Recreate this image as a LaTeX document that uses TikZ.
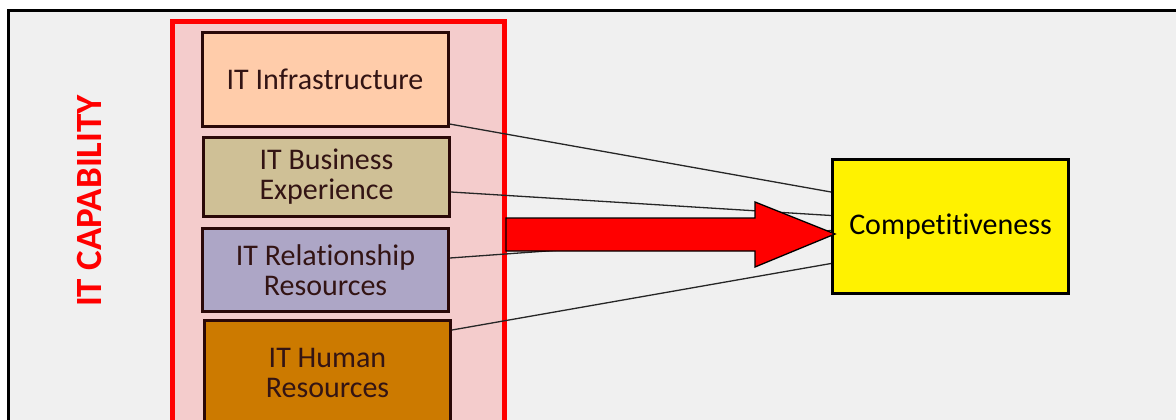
\documentclass[tikz,border=0pt]{standalone}
\usepackage{fontspec}
\setmainfont[Ligatures=NoCommon]{Carlito}
\usetikzlibrary{calc}
\definecolor{panel}{HTML}{F0F0F0}
\definecolor{groupfill}{HTML}{F4CCCC}
\definecolor{peach}{HTML}{FFCCAA}
\definecolor{tan}{HTML}{CFC096}
\definecolor{lavender}{HTML}{ADA6C6}
\definecolor{amber}{HTML}{CC7A00}
\definecolor{edgebrown}{HTML}{2A0808}
\definecolor{labelbrown}{HTML}{331414}
\tikzset{
  capbox/.style={draw=edgebrown, line width=3pt, minimum width=246pt,
    inner sep=0pt, align=center, text=labelbrown,
    font=\fontsize{30}{30}\selectfont},
  link/.style={line width=1.3pt, draw=black!85},
}
\begin{document}
\begin{tikzpicture}[x=1pt,y=-1pt]
\useasboundingbox (0,0) rectangle (1176,420);
\clip (0,0) rectangle (1176,420);
\fill[white] (0,0) rectangle (1176,420);
% panel with its frame
\fill[panel] (8,11) rectangle (1190,430);
\draw[line width=3pt] (8,430) -- (8,11) -- (1190,11);
% capability group
\draw[red, fill=groupfill, line width=5pt] (172,22) rectangle (504,440);
\node[red, rotate=90, font=\fontsize{37}{40}\selectfont\bfseries] (title) at (89,201) {IT CAPABILITY};
% resource boxes
\node[capbox, fill=peach, minimum height=94pt] (infra) at (325,79.5) {IT Infrastructure};
\node[capbox, fill=tan, minimum height=79pt] (biz) at (326.5,177) {IT Business\\Experience};
\node[capbox, fill=lavender, minimum height=83pt] (rel) at (325.5,270) {IT Relationship\\Resources};
\node[capbox, fill=amber, minimum height=105pt] (hum) at (327.5,373) {IT Human\\Resources};
% outcome
\node[draw=black, line width=3pt, fill=yellow, minimum width=236pt, minimum height=134pt,
  inner sep=0pt, font=\fontsize{30}{30}\selectfont] (comp) at (950.5,226.5) {Competitiveness};
% links from each resource to the outcome
\draw[link] ($(infra.south east)+(0,-4)$) -- ($(comp.north west)+(0,34)$);
\draw[link] ($(biz.east)+(0,15)$) -- ($(comp.west)+(0,-11)$);
\draw[link] ($(rel.east)+(0,-12)$) -- ($(comp.west)+(0,4)$);
\draw[link] ($(hum.north east)+(0,11)$) -- ($(comp.west)+(0,37)$);
% block arrow into the outcome
\draw[fill=red, line width=1.3pt, line join=miter]
  (506,218) -- (755,218) -- (755,202) -- (835,234) -- (755,267) -- (755,251) -- (506,251) -- cycle;
\end{tikzpicture}
\end{document}
